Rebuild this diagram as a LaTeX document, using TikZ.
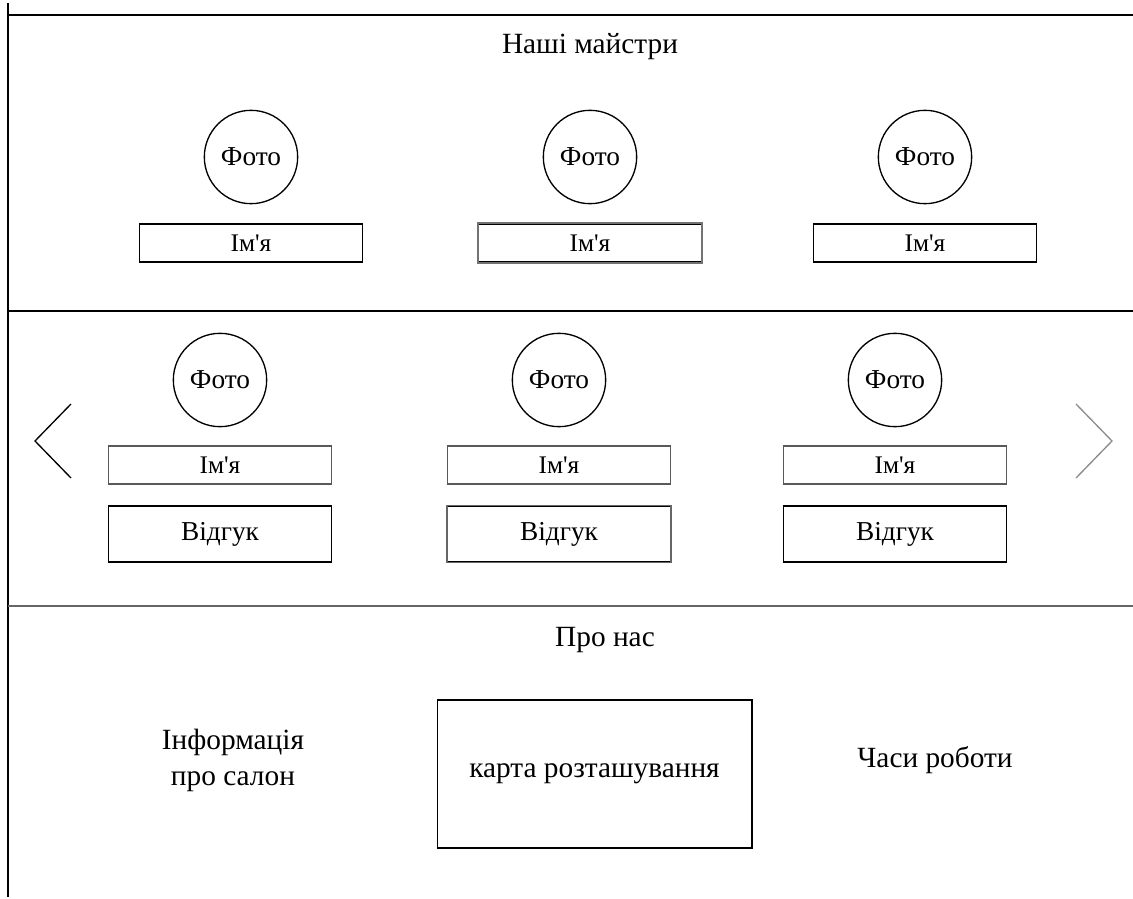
\documentclass[tikz,border=0pt]{standalone}
\usepackage{fontspec}
\setmainfont{Liberation Serif}
\begin{document}
\begin{tikzpicture}[x=0.75pt, y=-0.75pt, line width=1pt,
    photo/.style={draw, circle, minimum size=70pt, inner sep=0pt, font=\fontsize{20.5}{24}\selectfont},
    namebox/.style={draw, minimum width=167pt, minimum height=28.5pt, inner sep=0pt, font=\fontsize{19}{22}\selectfont},
    reviewbox/.style={draw, minimum width=167pt, minimum height=42pt, inner sep=0pt, font=\fontsize{20.5}{24}\selectfont},
    heading/.style={font=\fontsize{22}{27}\selectfont, align=center},
    greyline/.style={draw=black!55, line width=1.3pt},
    frameline/.style={line width=1.2pt}]
  \useasboundingbox (0,0) rectangle (1133,899);

  % frame
  \draw[frameline] (8,3) -- (8,897);
  \draw[frameline] (8,15) -- (1133,15);
  \draw[frameline] (8,311) -- (1133,311);
  \draw[frameline, draw=black!60, line width=1.6pt] (8,606) -- (1133,606);

  % our masters
  \node[heading] (masters) at (590,47) {Наші майстри};
  \foreach \x [count=\i] in {251,590,925} {
    \node[photo] (master photo \i) at (\x,157) {Фото};
    \node[namebox] (master name \i) at (\x,243) {Ім\textquotesingle я};
  }
  \draw[greyline] (master name 2.north west) rectangle (master name 2.south east);

  % reviews
  \foreach \x [count=\i] in {220,559,895} {
    \node[photo] (review photo \i) at (\x,380) {Фото};
    \node[namebox, draw=black!65] (review name \i) at (\x,465) {Ім\textquotesingle я};
    \node[reviewbox] (review text \i) at (\x,534) {Відгук};
  }
  \draw[greyline, draw=black!60, line width=1pt] (review text 2.north west) rectangle (review text 2.south east);

  \coordinate (prev top) at (71,404);
  \coordinate (prev tip) at (35,441);
  \coordinate (prev bottom) at (71,478);
  \draw (prev top) -- (prev tip) -- (prev bottom);
  \coordinate (next top) at (1076,404);
  \coordinate (next tip) at (1112,441);
  \coordinate (next bottom) at (1076,478);
  \draw[draw=black!45] (next top) -- (next tip) -- (next bottom);

  % about us
  \node[heading] (about) at (605,640) {Про нас};
  \node[heading] (info) at (233,760) {Інформація\\про салон};
  \node[draw, minimum width=236pt, minimum height=111pt, inner sep=0pt, font=\fontsize{22}{27}\selectfont] (map) at (594.5,774) {карта розташування};
  \node[heading] (hours) at (935,760) {Часи роботи};
\end{tikzpicture}
\end{document}
